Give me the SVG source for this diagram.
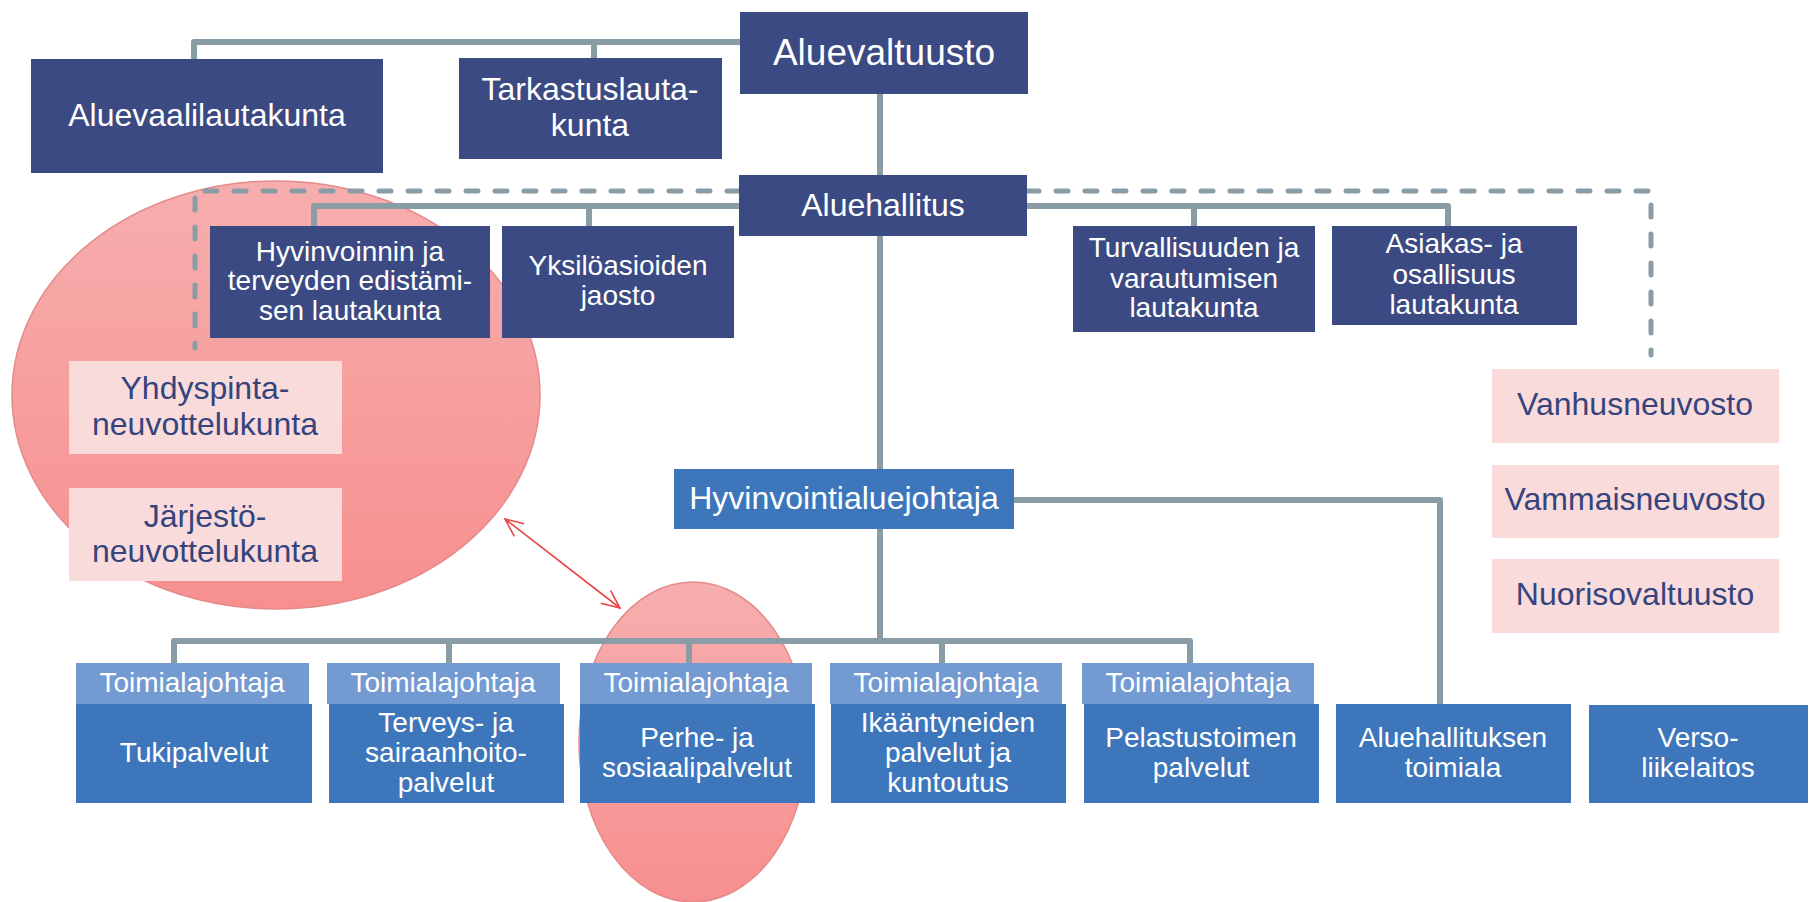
<svg xmlns="http://www.w3.org/2000/svg" width="1812" height="902" viewBox="0 0 1812 902">
<style>
.navy{fill:#3B4A82}
.blue{fill:#3E76BB}
.head{fill:#749AD2}
.pink{fill:#FADBDB}
text{font-family:"Liberation Sans",Arial,sans-serif;text-anchor:middle}
.w{fill:#FFFFFF}
.d{fill:#35447D}
.s28{font-size:28px}
.s32{font-size:32px}
.conn{fill:none;stroke:#8A9DA6;stroke-width:6;stroke-linecap:round;stroke-linejoin:round}
.dash{fill:none;stroke:#8A9DA6;stroke-width:5;stroke-linecap:round;stroke-dasharray:12 17}
.ell{stroke:#E48A8A;stroke-width:1.5;fill:url(#pg)}
.arr{fill:none;stroke:#E84545;stroke-width:1.6}
</style>
<defs>
<linearGradient id="pg" x1="0" y1="0" x2="0" y2="1">
<stop offset="0" stop-color="#F7AEAE"/>
<stop offset="1" stop-color="#F78F8F"/>
</linearGradient>
<marker id="ah" viewBox="0 0 20 20" refX="19" refY="10" markerWidth="20" markerHeight="20" markerUnits="userSpaceOnUse" orient="auto-start-reverse">
<path d="M1,2 L19,10 L1,18" fill="none" stroke="#E84545" stroke-width="1.6"/>
</marker>
</defs>

<g id="backgrounds">
<ellipse id="ellipse-big" class="ell" cx="276" cy="395" rx="264" ry="214"/>
<ellipse id="ellipse-small" class="ell" cx="693" cy="742" rx="114" ry="160"/>
</g>

<g id="connectors">
<path class="conn" d="M740,42 H194 V59 M594,42 V58"/>
<path class="conn" d="M880,94 V175 M880,236 V469 M880,529 V641"/>
<path class="conn" d="M739,206 H314 V226 M589,206 V226"/>
<path class="conn" d="M1027,206 H1448 V226 M1194,206 V226"/>
<path class="dash" d="M739,191 H195 V348"/>
<path class="dash" d="M1027,191 H1651 V355"/>
<path class="conn" d="M174,663 V641 H1190 V663 M449,641 V663 M689,641 V663 M942,641 V663"/>
<path class="conn" d="M1014,500 H1440 V704"/>
<line class="arr" x1="505" y1="519" x2="620" y2="608" marker-start="url(#ah)" marker-end="url(#ah)"/>
</g>

<g id="n-aluevaltuusto"><rect class="navy" x="740" y="12" width="288" height="82"/><text class="w" x="884" y="65" font-size="37">Aluevaltuusto</text></g>
<g id="n-aluevaalilautakunta"><rect class="navy" x="31" y="59" width="352" height="114"/><text class="w s32" x="207" y="126">Aluevaalilautakunta</text></g>
<g id="n-tarkastuslautakunta"><rect class="navy" x="459" y="58" width="263" height="101"/><text class="w s32" x="590" y="100">Tarkastuslauta-</text><text class="w s32" x="590" y="136">kunta</text></g>
<g id="n-aluehallitus"><rect class="navy" x="739" y="175" width="288" height="61"/><text class="w s32" x="883" y="216">Aluehallitus</text></g>
<g id="n-hyvinvoinnin"><rect class="navy" x="210" y="226" width="280" height="112"/><text class="w s28" x="350" y="261">Hyvinvoinnin ja</text><text class="w s28" x="350" y="290">terveyden edistämi-</text><text class="w s28" x="350" y="320">sen lautakunta</text></g>
<g id="n-yksiloasioiden"><rect class="navy" x="502" y="226" width="232" height="112"/><text class="w s28" x="618" y="275">Yksilöasioiden</text><text class="w s28" x="618" y="305">jaosto</text></g>
<g id="n-turvallisuuden"><rect class="navy" x="1073" y="226" width="242" height="106"/><text class="w s28" x="1194" y="257">Turvallisuuden ja</text><text class="w s28" x="1194" y="288">varautumisen</text><text class="w s28" x="1194" y="317">lautakunta</text></g>
<g id="n-asiakas"><rect class="navy" x="1332" y="226" width="245" height="99"/><text class="w s28" x="1454" y="253">Asiakas- ja</text><text class="w s28" x="1454" y="284">osallisuus</text><text class="w s28" x="1454" y="314">lautakunta</text></g>

<g id="n-yhdyspinta"><rect class="pink" x="69" y="361" width="273" height="93"/><text class="d s32" x="205" y="399">Yhdyspinta-</text><text class="d s32" x="205" y="435">neuvottelukunta</text></g>
<g id="n-jarjesto"><rect class="pink" x="69" y="488" width="273" height="93"/><text class="d s32" x="205" y="527">Järjestö-</text><text class="d s32" x="205" y="562">neuvottelukunta</text></g>
<g id="n-vanhusneuvosto"><rect class="pink" x="1492" y="369" width="287" height="74"/><text class="d s32" x="1635" y="415">Vanhusneuvosto</text></g>
<g id="n-vammaisneuvosto"><rect class="pink" x="1492" y="465" width="287" height="73"/><text class="d s32" x="1635" y="510">Vammaisneuvosto</text></g>
<g id="n-nuorisovaltuusto"><rect class="pink" x="1492" y="559" width="287" height="74"/><text class="d s32" x="1635" y="605">Nuorisovaltuusto</text></g>

<g id="n-hyvinvointialuejohtaja"><rect class="blue" x="674" y="469" width="340" height="60"/><text class="w s32" x="844" y="509">Hyvinvointialuejohtaja</text></g>

<g id="n-tukipalvelut"><rect class="head" x="76" y="663" width="233" height="41"/><text class="w s28" x="192" y="692">Toimialajohtaja</text><rect class="blue" x="76" y="704" width="236" height="99"/><text class="w s28" x="194" y="762">Tukipalvelut</text></g>
<g id="n-terveys"><rect class="head" x="327" y="663" width="233" height="41"/><text class="w s28" x="443" y="692">Toimialajohtaja</text><rect class="blue" x="329" y="704" width="235" height="99"/><text class="w s28" x="446" y="732">Terveys- ja</text><text class="w s28" x="446" y="762">sairaanhoito-</text><text class="w s28" x="446" y="792">palvelut</text></g>
<g id="n-perhe"><rect class="head" x="580" y="663" width="232" height="41"/><text class="w s28" x="696" y="692">Toimialajohtaja</text><rect class="blue" x="580" y="704" width="235" height="99"/><text class="w s28" x="697" y="747">Perhe- ja</text><text class="w s28" x="697" y="777">sosiaalipalvelut</text></g>
<g id="n-ikaantyneiden"><rect class="head" x="830" y="663" width="232" height="41"/><text class="w s28" x="946" y="692">Toimialajohtaja</text><rect class="blue" x="831" y="704" width="235" height="99"/><text class="w s28" x="948" y="732">Ikääntyneiden</text><text class="w s28" x="948" y="762">palvelut ja</text><text class="w s28" x="948" y="792">kuntoutus</text></g>
<g id="n-pelastustoimen"><rect class="head" x="1082" y="663" width="232" height="41"/><text class="w s28" x="1198" y="692">Toimialajohtaja</text><rect class="blue" x="1084" y="704" width="235" height="99"/><text class="w s28" x="1201" y="747">Pelastustoimen</text><text class="w s28" x="1201" y="777">palvelut</text></g>
<g id="n-aluehallituksen"><rect class="blue" x="1336" y="704" width="235" height="99"/><text class="w s28" x="1453" y="747">Aluehallituksen</text><text class="w s28" x="1453" y="777">toimiala</text></g>
<g id="n-verso"><rect class="blue" x="1589" y="705" width="219" height="98"/><text class="w s28" x="1698" y="747">Verso-</text><text class="w s28" x="1698" y="777">liikelaitos</text></g>
</svg>
